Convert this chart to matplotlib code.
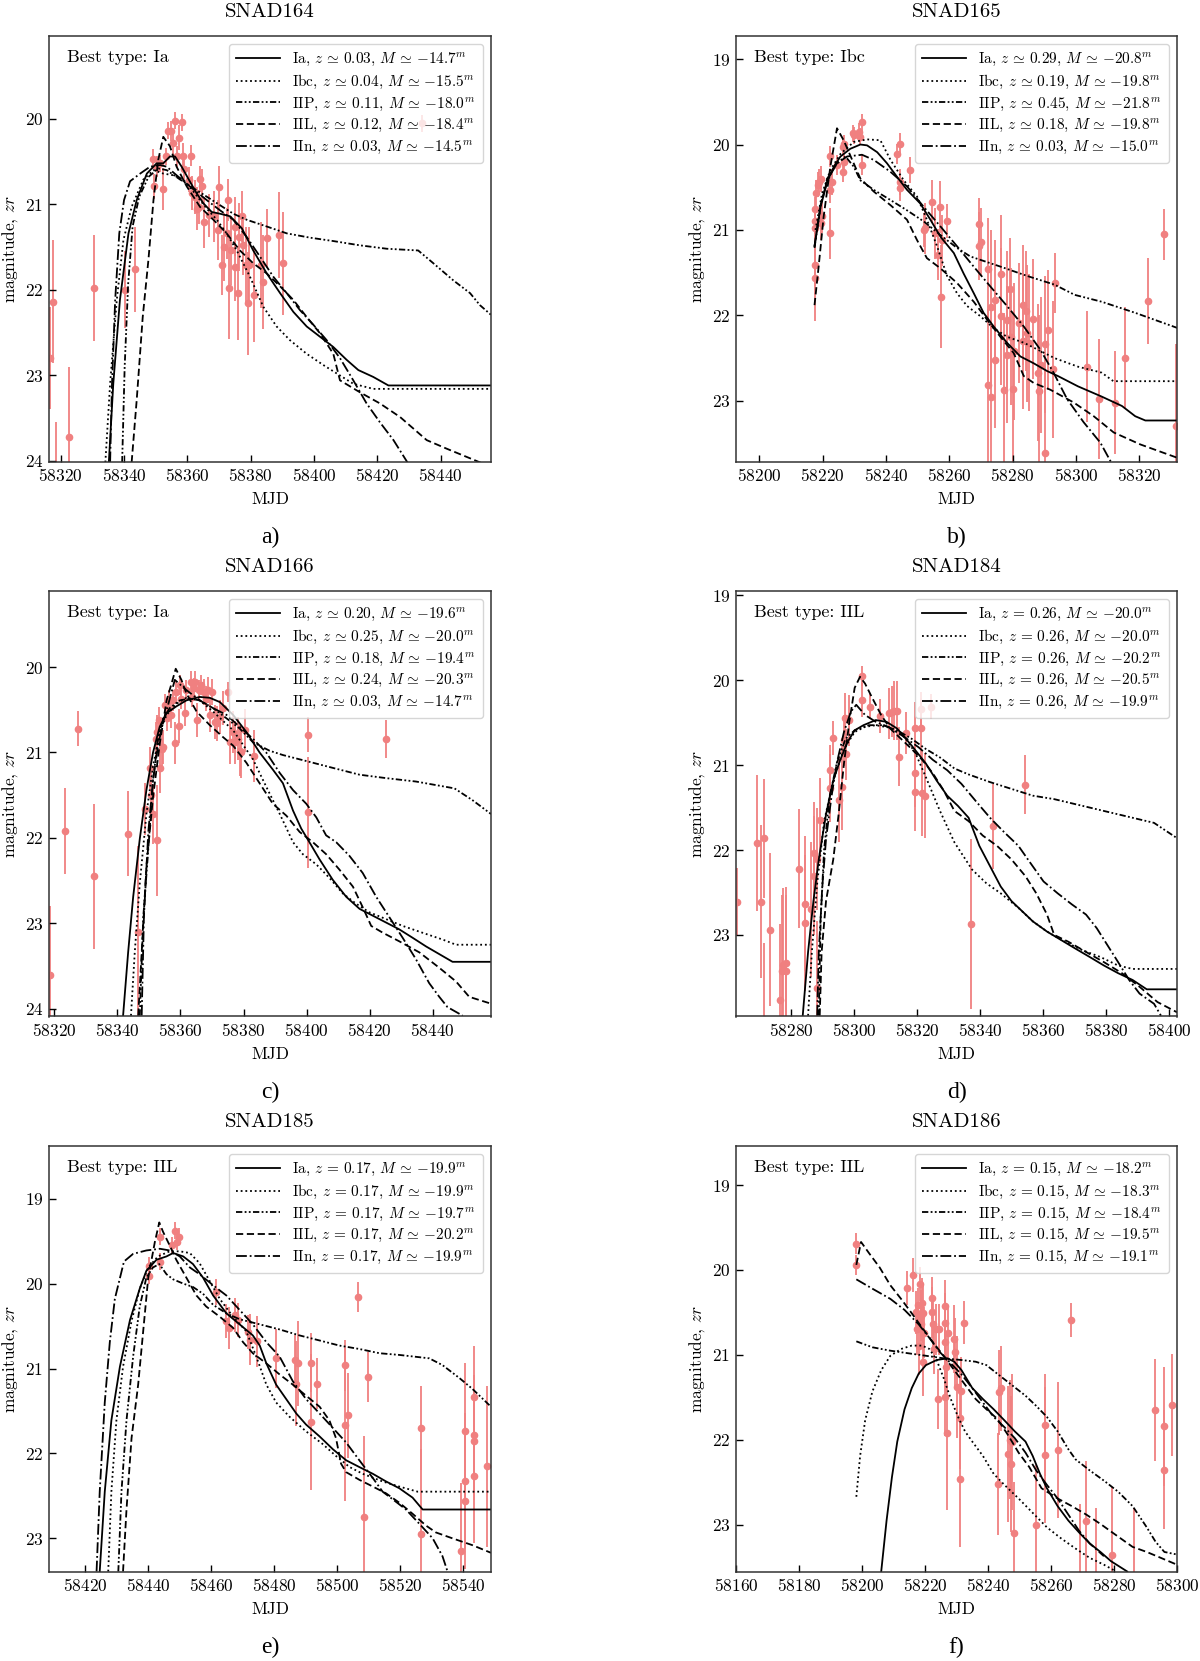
"""
Six light-curve panels (SNAD164 ... SNAD186): ZTF zr photometry with the
best-fit templates of each supernova type overplotted.
"""

import matplotlib

matplotlib.use("Agg")
import matplotlib.pyplot as plt
from matplotlib.ticker import MultipleLocator

plt.rcParams.update({
    "font.family": "serif",
    "font.serif": ["cmr10"],
    "mathtext.fontset": "cm",
    "axes.formatter.use_mathtext": True,
    "axes.formatter.useoffset": False,
})

RED = "#f08080"
TYPES = ["Ia", "Ibc", "IIP", "IIL", "IIn"]
STYLES = {
    "Ia": "-",
    "Ibc": (0, (1, 1.6)),
    "IIP": (0, (3.5, 1.3, 1, 1.3, 1, 1.3)),
    "IIL": (0, (4, 2)),
    "IIn": (0, (6, 1.6, 1, 1.6)),
}

# ---------------------------------------------------------------- SNAD164
A_PTS = [
    (58316.6, 22.80, 0.60), (58317.5, 22.14, 0.72), (58318.5, 24.30, 0.75),
    (58322.5, 23.72, 0.82), (58330.5, 21.98, 0.62), (58340.4, 22.00, 0.45),
    (58343.4, 21.76, 0.50), (58349.3, 20.47, 0.12), (58349.5, 20.79, 0.15),
    (58350.3, 20.56, 0.12), (58351.4, 20.52, 0.10), (58352.4, 20.82, 0.25),
    (58353.2, 20.44, 0.10), (58354.0, 20.14, 0.10), (58354.8, 20.14, 0.12),
    (58355.5, 20.28, 0.15), (58356.2, 20.02, 0.10), (58356.8, 20.44, 0.12),
    (58357.4, 20.22, 0.15), (58358.2, 20.04, 0.10), (58358.5, 20.43, 0.15),
    (58359.0, 20.59, 0.15), (58360.4, 20.71, 0.15), (58361.2, 20.43, 0.12),
    (58361.6, 20.87, 0.20), (58362.5, 20.91, 0.20), (58363.0, 21.05, 0.25),
    (58363.6, 21.03, 0.20), (58364.0, 20.70, 0.15), (58364.5, 20.79, 0.20),
    (58365.3, 21.21, 0.30), (58366.8, 21.13, 0.25), (58368.3, 21.14, 0.30),
    (58369.8, 21.30, 0.35), (58370.1, 20.80, 0.25), (58370.9, 21.71, 0.35),
    (58371.5, 21.50, 0.40), (58372.4, 21.34, 0.30), (58372.9, 20.95, 0.25),
    (58373.2, 21.98, 0.60), (58373.9, 21.54, 0.40), (58375.2, 21.26, 0.35),
    (58375.2, 21.73, 0.40), (58376.0, 22.04, 0.55), (58376.3, 21.38, 0.40),
    (58377.4, 21.14, 0.30), (58377.7, 21.48, 0.35), (58378.5, 21.71, 0.45),
    (58379.0, 22.16, 0.60), (58379.4, 21.71, 0.45), (58381.1, 22.06, 0.55),
    (58383.3, 21.71, 0.50), (58384.0, 21.91, 0.55), (58385.1, 21.40, 0.35),
    (58389.0, 21.36, 0.50), (58390.1, 21.69, 0.60), (58434.0, 20.05, 0.10),
]
A_IA = [
    (58335.2, 24.02), (58336.6, 23.10), (58338.7, 22.12), (58341.4, 21.34),
    (58344.0, 20.95), (58347.2, 20.64), (58350.3, 20.52), (58352.4, 20.52),
    (58354.5, 20.44), (58356.1, 20.44), (58358.2, 20.56), (58360.3, 20.70),
    (58362.9, 20.87), (58365.1, 20.99), (58367.7, 21.09), (58370.3, 21.11),
    (58373.5, 21.14), (58377.2, 21.28), (58380.8, 21.54), (58385.1, 21.81),
    (58389.3, 22.04), (58393.5, 22.26), (58397.7, 22.43), (58401.9, 22.55),
    (58406.1, 22.67), (58410.3, 22.82), (58414.0, 22.94), (58418.7, 23.02),
    (58423.5, 23.12), (58456.0, 23.12),
]
A_IBC = [
    (58334.1, 24.02), (58335.6, 23.10), (58337.7, 22.12), (58339.8, 21.42),
    (58342.4, 21.03), (58346.1, 20.71), (58349.3, 20.60), (58352.4, 20.64),
    (58355.6, 20.66), (58358.7, 20.71), (58361.9, 20.85), (58366.1, 21.05),
    (58369.3, 21.18), (58372.4, 21.34), (58375.6, 21.54), (58379.8, 21.85),
    (58384.0, 22.20), (58388.2, 22.43), (58392.4, 22.59), (58397.7, 22.75),
    (58402.9, 22.88), (58407.2, 22.98), (58412.4, 23.10), (58418.7, 23.16),
    (58456.0, 23.16),
]
A_IIP = [
    (58339.4, 24.02), (58340.2, 22.90), (58341.3, 21.93), (58342.7, 21.26),
    (58344.8, 20.91), (58347.7, 20.68), (58350.8, 20.58), (58353.5, 20.60),
    (58357.7, 20.71), (58361.9, 20.81), (58366.1, 20.91), (58370.3, 21.01),
    (58374.5, 21.11), (58378.7, 21.18), (58385.1, 21.26), (58391.4, 21.34),
    (58398.7, 21.39), (58406.1, 21.43), (58414.5, 21.48), (58423.0, 21.52),
    (58432.9, 21.54), (58437.7, 21.69), (58444.0, 21.89), (58449.3, 22.04),
    (58452.4, 22.18), (58456.1, 22.30),
]
A_IIL = [
    (58342.4, 24.02), (58344.0, 23.29), (58345.9, 22.32), (58347.7, 21.65),
    (58349.3, 20.95), (58350.8, 20.48), (58352.4, 20.21), (58354.5, 20.32),
    (58356.6, 20.56), (58359.8, 20.79), (58364.0, 21.03), (58368.2, 21.18),
    (58372.4, 21.34), (58376.6, 21.54), (58380.8, 21.69), (58385.1, 21.81),
    (58389.3, 21.96), (58393.5, 22.12), (58397.7, 22.32), (58401.9, 22.51),
    (58406.1, 22.75), (58408.2, 23.06), (58414.5, 23.20), (58420.8, 23.33),
    (58427.2, 23.49), (58435.6, 23.76), (58441.9, 23.86), (58452.4, 24.02),
    (58456.0, 24.10),
]
A_IIN = [
    (58335.6, 24.02), (58336.2, 23.10), (58337.2, 22.12), (58338.5, 21.34),
    (58340.0, 20.95), (58341.9, 20.73), (58345.1, 20.64), (58348.2, 20.56),
    (58351.4, 20.54), (58353.5, 20.56), (58356.6, 20.66), (58360.8, 20.79),
    (58366.1, 20.95), (58370.3, 21.07), (58374.5, 21.18), (58378.7, 21.38),
    (58382.9, 21.61), (58387.2, 21.85), (58391.4, 22.04), (58395.6, 22.24),
    (58399.8, 22.41), (58404.0, 22.59), (58408.2, 22.80), (58412.4, 23.06),
    (58416.6, 23.33), (58420.8, 23.55), (58425.1, 23.76), (58429.5, 24.02),
    (58430.8, 24.15),
]
A_Z = [0.03, 0.04, 0.11, 0.12, 0.03]
A_MABS = [-14.7, -15.5, -18.0, -18.4, -14.5]

# ---------------------------------------------------------------- SNAD165
B_PTS = [
    (58217.4, 20.76, 0.15), (58217.4, 20.90, 0.15), (58217.4, 20.98, 0.20),
    (58217.4, 21.41, 0.25), (58217.4, 21.56, 0.50), (58217.9, 20.57, 0.15),
    (58218.4, 20.47, 0.15), (58218.9, 20.44, 0.15), (58219.3, 20.40, 0.15),
    (58219.5, 20.92, 0.20), (58219.8, 20.84, 0.20), (58222.4, 20.14, 0.12),
    (58222.4, 20.53, 0.15), (58222.4, 21.04, 0.30), (58222.9, 20.44, 0.15),
    (58224.5, 20.24, 0.12), (58226.3, 20.03, 0.10), (58226.3, 20.32, 0.12),
    (58226.6, 20.20, 0.10), (58226.6, 19.99, 0.10), (58229.4, 19.87, 0.10),
    (58229.8, 19.89, 0.10), (58231.4, 19.85, 0.10), (58231.9, 19.91, 0.10),
    (58232.4, 19.74, 0.10), (58232.4, 20.24, 0.12), (58243.5, 20.11, 0.12),
    (58244.3, 19.99, 0.12), (58244.5, 20.44, 0.15), (58244.5, 20.51, 0.15),
    (58247.5, 20.30, 0.15), (58252.1, 21.00, 0.20), (58252.4, 20.98, 0.30),
    (58254.5, 20.67, 0.25), (58255.6, 21.04, 0.30), (58256.4, 21.29, 0.30),
    (58257.1, 20.73, 0.30), (58257.4, 21.78, 0.60), (58257.7, 21.12, 0.30),
    (58259.3, 20.90, 0.20), (58269.4, 20.93, 0.30), (58269.4, 21.19, 0.40),
    (58270.1, 21.14, 0.40), (58272.1, 21.46, 0.60), (58272.1, 22.82, 0.90),
    (58273.0, 21.90, 0.90), (58273.2, 22.96, 0.90), (58274.3, 21.82, 0.70),
    (58274.3, 22.52, 0.80), (58276.2, 21.52, 0.70), (58276.4, 22.01, 0.80),
    (58277.2, 22.87, 0.90), (58278.1, 22.05, 0.80), (58278.1, 22.46, 0.80),
    (58279.1, 21.69, 0.60), (58279.4, 22.25, 0.80), (58280.2, 22.86, 0.90),
    (58280.4, 22.42, 0.80), (58282.1, 22.09, 0.70), (58283.2, 21.88, 0.70),
    (58283.4, 22.30, 0.80), (58284.1, 21.95, 0.70), (58284.5, 22.21, 0.80),
    (58285.1, 22.32, 0.80), (58286.3, 22.04, 0.70), (58287.9, 22.67, 0.80),
    (58288.2, 22.89, 0.90), (58289.0, 22.58, 0.80), (58290.2, 23.61, 1.00),
    (58290.2, 22.34, 0.80), (58291.1, 22.17, 0.70), (58292.6, 22.63, 0.80),
    (58293.4, 21.62, 0.35), (58303.5, 22.60, 0.65), (58307.2, 22.98, 0.70),
    (58312.4, 23.02, 0.60), (58315.5, 22.50, 0.60), (58322.6, 21.83, 0.50),
    (58327.7, 21.05, 0.30), (58331.6, 23.29, 0.95),
]
B_IA = [
    (58217.4, 21.19), (58219.3, 20.73), (58221.4, 20.44), (58223.5, 20.26),
    (58225.6, 20.14), (58228.7, 20.05), (58231.9, 20.00), (58234.0, 20.01),
    (58237.2, 20.09), (58240.3, 20.22), (58243.5, 20.38), (58246.6, 20.53),
    (58250.8, 20.69), (58254.0, 20.88), (58257.2, 21.08), (58261.4, 21.27),
    (58264.5, 21.51), (58267.7, 21.74), (58270.8, 21.97), (58274.0, 22.13),
    (58278.2, 22.32), (58282.4, 22.48), (58286.6, 22.56), (58290.8, 22.65),
    (58294.3, 22.71), (58300.6, 22.83), (58308.1, 22.95), (58314.5, 23.06),
    (58318.7, 23.18), (58321.9, 23.23), (58333.0, 23.23),
]
B_IBC = [
    (58217.7, 21.00), (58219.8, 20.57), (58222.4, 20.30), (58225.6, 20.11),
    (58229.8, 19.97), (58234.0, 19.94), (58238.2, 19.95), (58241.4, 20.18),
    (58245.6, 20.42), (58249.8, 20.61), (58252.9, 20.88), (58256.1, 21.19),
    (58259.3, 21.54), (58262.4, 21.74), (58265.6, 21.89), (58269.8, 22.01),
    (58274.0, 22.15), (58278.2, 22.25), (58283.5, 22.32), (58286.8, 22.38),
    (58293.2, 22.50), (58300.6, 22.60), (58308.1, 22.67), (58311.8, 22.77),
    (58333.0, 22.77),
]
B_IIP = [
    (58217.4, 21.21), (58219.3, 20.73), (58221.4, 20.40), (58224.5, 20.22),
    (58227.2, 20.14), (58229.8, 20.26), (58231.9, 20.42), (58236.1, 20.53),
    (58241.4, 20.65), (58246.6, 20.77), (58251.9, 20.90), (58257.2, 21.06),
    (58262.4, 21.21), (58266.6, 21.31), (58276.2, 21.43), (58284.7, 21.54),
    (58293.2, 21.64), (58299.6, 21.76), (58308.1, 21.84), (58318.7, 21.97),
    (58333.0, 22.16),
]
B_IIL = [
    (58217.4, 21.88), (58218.7, 21.43), (58220.3, 20.84), (58222.4, 20.26),
    (58224.5, 19.81), (58226.6, 19.95), (58229.3, 20.18), (58231.9, 20.40),
    (58236.1, 20.55), (58241.4, 20.71), (58246.6, 20.88), (58249.8, 21.12),
    (58252.9, 21.33), (58257.2, 21.45), (58262.4, 21.62), (58267.7, 21.84),
    (58271.9, 22.05), (58276.1, 22.25), (58280.3, 22.44), (58283.5, 22.71),
    (58286.6, 22.79), (58291.9, 22.87), (58299.3, 23.02), (58305.6, 23.18),
    (58311.9, 23.37), (58320.3, 23.51), (58333.0, 23.68),
]
B_IIN = [
    (58217.4, 21.19), (58219.3, 20.71), (58221.4, 20.42), (58224.5, 20.22),
    (58227.7, 20.14), (58232.4, 20.12), (58236.1, 20.18), (58241.4, 20.32),
    (58246.6, 20.49), (58251.9, 20.73), (58257.2, 20.96), (58262.4, 21.19),
    (58267.7, 21.43), (58272.9, 21.66), (58278.2, 21.89), (58283.5, 22.13),
    (58288.7, 22.40), (58292.9, 22.67), (58297.2, 22.98), (58302.4, 23.25),
    (58307.7, 23.49), (58310.8, 23.70), (58311.9, 23.76),
]
B_Z = [0.29, 0.19, 0.45, 0.18, 0.03]
B_MABS = [-20.8, -19.8, -21.8, -19.8, -15.0]

# ---------------------------------------------------------------- SNAD166
C_PTS = [
    (58318.6, 23.60, 0.80), (58323.4, 21.92, 0.50), (58327.5, 20.72, 0.20),
    (58332.6, 22.45, 0.85), (58343.2, 21.95, 0.50), (58346.4, 23.10, 1.00),
    (58348.9, 21.66, 0.30), (58350.2, 21.18, 0.25), (58350.8, 21.50, 0.30),
    (58351.4, 21.72, 0.35), (58352.1, 20.84, 0.20), (58352.4, 22.03, 0.65),
    (58352.7, 20.76, 0.20), (58353.2, 20.62, 0.15), (58353.5, 21.18, 0.30),
    (58354.1, 20.96, 0.20), (58354.5, 20.94, 0.20), (58355.1, 20.44, 0.12),
    (58355.8, 20.60, 0.15), (58356.3, 20.39, 0.12), (58356.9, 20.56, 0.15),
    (58357.7, 20.39, 0.12), (58358.3, 20.89, 0.25), (58358.7, 20.29, 0.12),
    (58359.4, 20.69, 0.20), (58359.8, 20.21, 0.12), (58360.3, 20.37, 0.12),
    (58361.5, 20.54, 0.15), (58361.9, 20.27, 0.12), (58363.2, 20.17, 0.12),
    (58363.7, 20.35, 0.12), (58364.2, 20.25, 0.12), (58364.7, 20.17, 0.12),
    (58365.3, 20.62, 0.20), (58365.9, 20.27, 0.12), (58366.6, 20.21, 0.12),
    (58367.4, 20.29, 0.15), (58368.0, 20.37, 0.15), (58368.7, 20.27, 0.15),
    (58369.3, 20.56, 0.20), (58370.1, 20.29, 0.15), (58370.9, 20.64, 0.20),
    (58371.6, 20.66, 0.20), (58372.5, 20.58, 0.20), (58373.5, 20.48, 0.20),
    (58375.2, 20.29, 0.12), (58375.6, 20.88, 0.25), (58376.7, 20.76, 0.25),
    (58377.4, 20.88, 0.25), (58378.3, 20.84, 0.25), (58378.8, 20.98, 0.30),
    (58379.3, 21.00, 0.30), (58380.4, 20.74, 0.25), (58383.2, 21.04, 0.30),
    (58400.4, 20.79, 0.20), (58400.4, 21.70, 0.65), (58425.2, 20.84, 0.22),
]
C_IA = [
    (58341.8, 24.08), (58343.4, 23.34), (58345.0, 22.69), (58347.1, 22.01),
    (58349.2, 21.44), (58351.3, 21.00), (58353.4, 20.70), (58355.6, 20.54),
    (58358.7, 20.46), (58361.9, 20.39), (58366.1, 20.35), (58369.3, 20.36),
    (58372.5, 20.41), (58376.7, 20.56), (58380.9, 20.76), (58385.1, 21.00),
    (58389.3, 21.20), (58392.5, 21.36), (58395.7, 21.68), (58398.3, 21.89),
    (58400.9, 22.05), (58404.1, 22.25), (58408.3, 22.49), (58412.6, 22.69),
    (58416.8, 22.83), (58421.0, 22.91), (58425.2, 22.99), (58429.4, 23.07),
    (58433.7, 23.17), (58437.9, 23.27), (58442.1, 23.36), (58446.3, 23.45),
    (58458.5, 23.45),
]
C_IBC = [
    (58344.3, 24.08), (58345.5, 23.34), (58347.1, 22.53), (58349.2, 21.72),
    (58351.3, 21.16), (58353.4, 20.76), (58355.6, 20.56), (58358.7, 20.43),
    (58361.9, 20.36), (58366.1, 20.39), (58370.3, 20.52), (58376.7, 20.74),
    (58383.0, 21.08), (58387.2, 21.40), (58391.5, 21.72), (58395.7, 22.05),
    (58398.8, 22.19), (58403.1, 22.31), (58407.3, 22.47), (58411.5, 22.65),
    (58415.7, 22.77), (58419.9, 22.87), (58425.2, 22.95), (58430.5, 23.03),
    (58436.8, 23.11), (58443.2, 23.19), (58447.4, 23.25), (58458.5, 23.25),
]
C_IIP = [
    (58347.1, 24.08), (58348.2, 22.93), (58349.8, 22.13), (58351.3, 21.32),
    (58352.9, 20.84), (58354.5, 20.60), (58356.6, 20.48), (58359.8, 20.39),
    (58363.0, 20.37), (58366.1, 20.39), (58370.3, 20.48), (58374.6, 20.60),
    (58378.8, 20.72), (58383.0, 20.88), (58388.3, 20.98), (58392.5, 21.03),
    (58399.9, 21.10), (58408.3, 21.18), (58416.8, 21.26), (58425.2, 21.30),
    (58434.7, 21.34), (58446.9, 21.42), (58452.7, 21.56), (58458.5, 21.72),
]
C_IIL = [
    (58346.6, 24.08), (58347.7, 23.34), (58349.2, 22.33), (58351.3, 21.52),
    (58353.5, 20.88), (58355.6, 20.39), (58357.2, 20.19), (58358.5, 20.02),
    (58360.3, 20.15), (58361.9, 20.31), (58365.1, 20.52), (58369.3, 20.68),
    (58373.5, 20.82), (58376.7, 20.92), (58380.9, 21.12), (58385.1, 21.36),
    (58389.3, 21.60), (58393.6, 21.74), (58397.8, 21.93), (58402.0, 22.05),
    (58406.2, 22.19), (58410.4, 22.37), (58414.7, 22.57), (58417.8, 22.81),
    (58420.5, 23.03), (58424.2, 23.11), (58429.4, 23.21), (58435.8, 23.34),
    (58442.1, 23.52), (58447.4, 23.68), (58451.6, 23.86), (58458.5, 23.94),
]
C_IIN = [
    (58347.7, 24.08), (58348.4, 22.93), (58349.8, 21.93), (58351.3, 21.32),
    (58352.9, 20.92), (58354.5, 20.64), (58356.1, 20.44), (58358.2, 20.15),
    (58361.9, 20.27), (58366.1, 20.39), (58370.3, 20.48), (58374.6, 20.56),
    (58378.8, 20.70), (58383.0, 20.84), (58387.2, 21.00), (58391.5, 21.24),
    (58395.7, 21.44), (58399.9, 21.60), (58403.1, 21.76), (58406.2, 21.97),
    (58409.4, 22.05), (58413.6, 22.21), (58417.8, 22.41), (58422.1, 22.69),
    (58426.3, 22.93), (58430.5, 23.17), (58434.7, 23.42), (58438.9, 23.70),
    (58442.1, 23.86), (58444.7, 23.98), (58449.5, 24.08),
]
C_Z = [0.20, 0.25, 0.18, 0.24, 0.03]
C_MABS = [-19.6, -20.0, -19.4, -20.3, -14.7]

# ---------------------------------------------------------------- SNAD184
D_PTS = [
    (58262.8, 22.61, 0.40), (58269.1, 21.92, 0.80), (58270.4, 22.61, 0.90),
    (58271.3, 21.86, 0.70), (58271.3, 24.00, 0.90), (58273.4, 22.94, 0.90),
    (58276.5, 23.77, 0.90), (58277.2, 23.43, 0.90), (58277.5, 23.35, 0.90),
    (58278.3, 23.43, 0.90), (58278.3, 23.33, 0.90), (58282.5, 22.22, 0.70),
    (58284.3, 22.63, 0.80), (58284.3, 22.86, 0.80), (58286.3, 22.70, 0.80),
    (58287.2, 22.04, 0.60), (58287.2, 22.30, 0.70), (58288.2, 22.11, 0.60),
    (58288.2, 23.63, 0.80), (58289.2, 21.65, 0.50), (58292.5, 21.06, 0.30),
    (58292.5, 21.27, 0.40), (58293.4, 20.68, 0.20), (58295.3, 21.41, 0.50),
    (58296.3, 21.26, 0.50), (58296.8, 20.71, 0.30), (58297.1, 20.45, 0.30),
    (58297.4, 20.87, 0.30), (58298.3, 20.47, 0.30), (58302.4, 19.95, 0.12),
    (58302.4, 20.23, 0.20), (58305.2, 20.31, 0.15), (58308.3, 20.42, 0.20),
    (58311.2, 20.39, 0.30), (58312.1, 20.37, 0.30), (58312.8, 20.36, 0.35),
    (58313.5, 20.36, 0.35), (58314.3, 20.90, 0.35), (58316.5, 20.62, 0.25),
    (58319.4, 20.56, 0.30), (58319.4, 21.09, 0.40), (58319.4, 21.32, 0.45),
    (58321.4, 20.34, 0.20), (58321.4, 20.56, 0.35), (58321.5, 21.33, 0.50),
    (58322.5, 21.36, 0.50), (58324.3, 20.31, 0.15), (58337.3, 22.87, 1.00),
    (58344.3, 21.72, 0.50), (58354.3, 21.23, 0.35),
]
D_IA = [
    (58283.7, 23.95), (58285.4, 23.20), (58287.1, 22.60), (58288.8, 22.11),
    (58291.1, 21.58), (58293.4, 21.18), (58295.6, 20.94), (58297.9, 20.73),
    (58300.2, 20.59), (58303.0, 20.53), (58306.9, 20.47), (58310.3, 20.49),
    (58313.7, 20.57), (58318.3, 20.77), (58322.8, 20.98), (58326.2, 21.18),
    (58329.6, 21.36), (58333.0, 21.48), (58336.4, 21.62), (58339.8, 21.95),
    (58343.2, 22.19), (58346.6, 22.43), (58350.0, 22.60), (58353.4, 22.72),
    (58356.8, 22.84), (58361.3, 22.96), (58365.8, 23.06), (58370.3, 23.16),
    (58374.9, 23.26), (58379.4, 23.36), (58383.9, 23.45), (58388.5, 23.53),
    (58393.0, 23.64), (58402.6, 23.64),
]
D_IBC = [
    (58285.4, 23.95), (58286.6, 23.20), (58288.3, 22.39), (58290.5, 21.66),
    (58293.4, 21.18), (58296.8, 20.81), (58300.2, 20.61), (58303.5, 20.55),
    (58306.9, 20.53), (58311.5, 20.56), (58316.0, 20.67), (58319.4, 20.85),
    (58322.8, 21.14), (58327.3, 21.54), (58331.9, 21.91), (58337.5, 22.23),
    (58342.0, 22.39), (58346.6, 22.51), (58352.2, 22.68), (58356.8, 22.84),
    (58361.3, 22.96), (58367.0, 23.08), (58372.6, 23.18), (58378.3, 23.26),
    (58383.9, 23.36), (58388.5, 23.40), (58402.6, 23.40),
]
D_IIP = [
    (58288.8, 23.95), (58289.4, 22.80), (58290.5, 21.99), (58292.2, 21.38),
    (58294.5, 20.98), (58297.3, 20.69), (58300.2, 20.59), (58304.7, 20.53),
    (58309.2, 20.53), (58313.7, 20.59), (58318.3, 20.69), (58322.8, 20.81),
    (58327.3, 20.91), (58331.9, 21.04), (58336.4, 21.11), (58343.2, 21.20),
    (58350.0, 21.28), (58356.8, 21.36), (58363.5, 21.40), (58372.6, 21.48),
    (58379.4, 21.54), (58386.2, 21.60), (58395.3, 21.68), (58402.6, 21.86),
]
D_IIL = [
    (58289.1, 23.95), (58289.7, 23.20), (58291.1, 22.60), (58293.4, 22.11),
    (58295.1, 21.58), (58296.8, 20.98), (58298.5, 20.49), (58300.2, 20.09),
    (58301.9, 19.96), (58303.5, 20.04), (58305.8, 20.21), (58308.6, 20.41),
    (58311.5, 20.57), (58314.9, 20.69), (58318.3, 20.81), (58321.7, 20.94),
    (58325.1, 21.10), (58328.5, 21.30), (58331.9, 21.54), (58336.4, 21.66),
    (58340.9, 21.83), (58345.4, 21.95), (58350.0, 22.11), (58354.5, 22.31),
    (58357.9, 22.51), (58361.3, 22.76), (58363.6, 23.00), (58368.1, 23.08),
    (58373.7, 23.20), (58379.4, 23.32), (58385.1, 23.45), (58390.7, 23.61),
    (58396.4, 23.79), (58402.6, 23.91),
]
D_IIN = [
    (58288.3, 23.95), (58288.8, 23.20), (58290.0, 22.39), (58291.1, 21.87),
    (58292.8, 21.38), (58294.5, 20.98), (58296.8, 20.61), (58299.0, 20.37),
    (58300.7, 20.29), (58303.5, 20.41), (58306.9, 20.49), (58311.5, 20.56),
    (58316.0, 20.67), (58320.5, 20.79), (58325.1, 20.94), (58329.6, 21.06),
    (58334.1, 21.22), (58338.6, 21.42), (58343.2, 21.62), (58347.7, 21.79),
    (58352.2, 21.95), (58355.6, 22.13), (58360.2, 22.37), (58364.7, 22.51),
    (58369.2, 22.64), (58373.7, 22.76), (58377.1, 22.92), (58380.5, 23.12),
    (58383.9, 23.32), (58387.4, 23.53), (58390.7, 23.69), (58395.3, 23.81),
    (58397.5, 23.95),
]
D_Z = [0.26, 0.26, 0.26, 0.26, 0.26]
D_MABS = [-20.0, -20.0, -20.2, -20.5, -19.9]

# ---------------------------------------------------------------- SNAD185
E_PTS = [
    (58440.3, 19.91, 0.10), (58440.3, 19.79, 0.10), (58443.7, 19.45, 0.10),
    (58443.7, 19.74, 0.10), (58447.4, 19.55, 0.10), (58448.4, 19.38, 0.10),
    (58449.2, 19.51, 0.10), (58449.7, 19.45, 0.10), (58461.6, 20.10, 0.15),
    (58464.8, 20.44, 0.20), (58465.6, 20.52, 0.25), (58467.4, 20.37, 0.20),
    (58468.4, 20.43, 0.20), (58471.7, 20.57, 0.20), (58472.4, 20.66, 0.30),
    (58474.5, 20.68, 0.30), (58480.6, 20.88, 0.35), (58486.5, 20.90, 0.30),
    (58486.8, 21.18, 0.50), (58487.6, 20.94, 0.50), (58491.6, 20.93, 0.35),
    (58491.6, 21.63, 0.80), (58493.6, 21.18, 0.30), (58502.6, 20.96, 0.30),
    (58502.6, 21.66, 0.90), (58503.5, 21.55, 0.50), (58506.6, 20.16, 0.18),
    (58508.5, 22.75, 0.95), (58509.6, 21.10, 0.30), (58526.6, 21.70, 0.50),
    (58526.6, 22.95, 1.00), (58539.4, 23.15, 0.80), (58540.4, 21.74, 0.80),
    (58540.4, 22.32, 0.80), (58540.4, 22.56, 0.80), (58543.4, 21.33, 0.60),
    (58543.4, 21.78, 0.70), (58543.4, 21.85, 0.70), (58543.4, 22.26, 0.80),
    (58547.4, 22.15, 0.95),
]
E_IA = [
    (58424.6, 23.39), (58426.2, 22.45), (58428.3, 21.61), (58431.0, 20.98),
    (58434.2, 20.43), (58437.3, 20.06), (58439.4, 19.85), (58442.6, 19.72),
    (58445.8, 19.68), (58447.9, 19.64), (58451.1, 19.68), (58454.2, 19.77),
    (58457.4, 19.93), (58460.6, 20.14), (58464.8, 20.35), (58469.0, 20.48),
    (58473.2, 20.61), (58475.4, 20.73), (58477.5, 20.94), (58480.6, 21.19),
    (58483.8, 21.36), (58487.0, 21.53), (58490.1, 21.66), (58494.4, 21.80),
    (58498.6, 21.95), (58502.8, 22.08), (58507.0, 22.16), (58511.3, 22.24),
    (58515.5, 22.33), (58519.7, 22.41), (58523.9, 22.52), (58527.1, 22.66),
    (58548.8, 22.66),
]
E_IBC = [
    (58427.3, 23.39), (58428.3, 22.45), (58429.9, 21.61), (58432.0, 20.98),
    (58434.7, 20.44), (58437.3, 20.06), (58440.0, 19.81), (58443.1, 19.68),
    (58446.8, 19.62), (58450.0, 19.62), (58453.2, 19.64), (58456.3, 19.76),
    (58459.5, 19.97), (58462.7, 20.18), (58466.9, 20.39), (58471.1, 20.56),
    (58474.3, 20.86), (58477.5, 21.19), (58480.6, 21.40), (58484.9, 21.57),
    (58490.1, 21.74), (58495.4, 21.89), (58499.6, 22.03), (58503.9, 22.16),
    (58508.1, 22.24), (58514.4, 22.33), (58519.7, 22.39), (58525.5, 22.45),
    (58548.8, 22.45),
]
E_IIP = [
    (58430.5, 23.39), (58431.5, 22.45), (58433.1, 21.61), (58435.2, 20.86),
    (58437.3, 20.27), (58439.4, 19.93), (58441.5, 19.81), (58443.5, 19.77),
    (58445.8, 19.89), (58447.9, 19.95), (58451.1, 20.00), (58454.2, 20.04),
    (58457.4, 20.12), (58460.6, 20.25), (58464.8, 20.35), (58469.0, 20.42),
    (58475.4, 20.48), (58481.7, 20.54), (58488.0, 20.61), (58494.4, 20.67),
    (58500.7, 20.73), (58507.0, 20.77), (58513.4, 20.82), (58519.7, 20.84),
    (58529.2, 20.88), (58533.4, 20.96), (58538.7, 21.11), (58542.9, 21.24),
    (58548.8, 21.45),
]
E_IIL = [
    (58432.0, 23.39), (58433.1, 22.66), (58434.7, 21.82), (58436.8, 21.19),
    (58438.4, 20.56), (58440.0, 19.93), (58442.1, 19.51), (58443.5, 19.28),
    (58444.7, 19.39), (58446.8, 19.55), (58448.9, 19.72), (58452.1, 19.93),
    (58455.3, 20.14), (58458.4, 20.27), (58462.7, 20.39), (58466.9, 20.52),
    (58470.1, 20.69), (58473.2, 20.82), (58477.5, 20.94), (58481.7, 21.07),
    (58485.9, 21.19), (58490.1, 21.32), (58494.4, 21.45), (58497.5, 21.61),
    (58499.6, 21.82), (58501.2, 22.12), (58502.8, 22.22), (58507.0, 22.31),
    (58511.3, 22.39), (58515.5, 22.47), (58519.7, 22.58), (58523.9, 22.71),
    (58528.2, 22.85), (58531.3, 22.93), (58536.6, 23.00), (58542.9, 23.08),
    (58548.8, 23.17),
]
E_IIN = [
    (58423.6, 23.39), (58424.6, 22.45), (58426.2, 21.40), (58427.8, 20.69),
    (58429.4, 20.18), (58432.3, 19.74), (58435.2, 19.65), (58439.4, 19.61),
    (58443.7, 19.59), (58446.8, 19.61), (58450.0, 19.68), (58453.2, 19.81),
    (58456.3, 19.89), (58460.6, 20.02), (58464.8, 20.14), (58469.0, 20.31),
    (58473.2, 20.48), (58477.5, 20.69), (58481.7, 20.86), (58485.9, 21.15),
    (58490.1, 21.36), (58494.4, 21.53), (58498.6, 21.70), (58502.8, 21.87),
    (58507.0, 22.08), (58511.3, 22.29), (58514.4, 22.45), (58517.6, 22.54),
    (58521.8, 22.66), (58526.1, 22.83), (58530.3, 23.00), (58533.4, 23.21),
    (58535.0, 23.39),
]
E_Z = [0.17, 0.17, 0.17, 0.17, 0.17]
E_MABS = [-19.9, -19.9, -19.7, -20.2, -19.9]

# ---------------------------------------------------------------- SNAD186
F_PTS = [
    (58198.2, 19.69, 0.12), (58198.2, 19.94, 0.12), (58214.3, 20.21, 0.20),
    (58216.2, 20.06, 0.20), (58217.1, 20.50, 0.25), (58217.5, 20.70, 0.30),
    (58217.8, 20.41, 0.20), (58218.0, 20.89, 0.35), (58218.3, 20.17, 0.20),
    (58218.6, 20.54, 0.30), (58218.8, 20.63, 0.30), (58219.0, 20.39, 0.30),
    (58219.4, 20.51, 0.35), (58219.5, 21.08, 0.40), (58219.7, 20.74, 0.30),
    (58222.2, 20.33, 0.25), (58222.3, 20.50, 0.30), (58222.5, 20.64, 0.30),
    (58222.8, 20.93, 0.30), (58223.4, 20.70, 0.30), (58224.2, 21.52, 0.35),
    (58224.6, 20.70, 0.30), (58226.2, 20.42, 0.30), (58226.2, 20.62, 0.35),
    (58226.3, 20.85, 0.40), (58226.5, 21.50, 0.45), (58226.7, 21.14, 0.40),
    (58227.0, 21.92, 0.90), (58227.3, 20.74, 0.30), (58229.3, 20.81, 0.40),
    (58229.5, 20.97, 0.40), (58230.0, 21.38, 0.60), (58231.0, 22.46, 0.80),
    (58231.2, 21.74, 0.60), (58231.3, 21.43, 0.40), (58232.3, 20.62, 0.25),
    (58243.2, 22.52, 0.60), (58243.4, 21.44, 0.50), (58244.2, 21.39, 0.50),
    (58246.3, 22.17, 0.80), (58246.9, 22.00, 0.70), (58247.2, 22.28, 0.80),
    (58247.6, 22.02, 0.80), (58248.2, 23.10, 0.60), (58255.3, 23.00, 0.70),
    (58258.0, 21.83, 0.60), (58258.2, 22.18, 0.80), (58262.3, 22.12, 0.80),
    (58266.3, 20.59, 0.20), (58269.1, 23.60, 0.85), (58271.2, 22.95, 0.70),
    (58274.2, 23.70, 0.90), (58279.3, 23.36, 0.80), (58286.3, 23.80, 1.00),
    (58293.1, 21.65, 0.60), (58296.0, 21.84, 0.70), (58296.0, 22.35, 0.70),
    (58298.3, 21.59, 0.60),
]
F_IA = [
    (58206.1, 23.55), (58207.8, 22.95), (58209.5, 22.44), (58211.2, 22.02),
    (58213.5, 21.64), (58215.8, 21.39), (58218.0, 21.22), (58220.3, 21.12),
    (58223.7, 21.06), (58227.1, 21.04), (58229.3, 21.08), (58231.6, 21.18),
    (58235.0, 21.39), (58238.4, 21.52), (58241.8, 21.64), (58245.2, 21.77),
    (58248.5, 21.90), (58251.9, 22.02), (58254.2, 22.19), (58256.5, 22.40),
    (58258.7, 22.57), (58262.1, 22.78), (58265.5, 22.95), (58268.9, 23.09),
    (58272.3, 23.22), (58275.7, 23.32), (58279.1, 23.43), (58282.5, 23.51),
    (58284.2, 23.55),
]
F_IBC = [
    (58198.2, 22.67), (58199.4, 22.19), (58201.0, 21.77), (58203.3, 21.43),
    (58206.1, 21.18), (58209.0, 21.01), (58212.4, 20.93), (58215.8, 20.89),
    (58219.1, 20.89), (58221.4, 20.93), (58223.7, 21.06), (58225.9, 21.27),
    (58228.2, 21.52), (58230.5, 21.73), (58232.7, 21.90), (58235.0, 22.02),
    (58238.4, 22.19), (58241.8, 22.40), (58245.2, 22.53), (58249.7, 22.69),
    (58254.2, 22.86), (58258.7, 23.03), (58263.2, 23.16), (58267.8, 23.28),
    (58272.3, 23.39), (58276.8, 23.47), (58280.2, 23.54),
]
F_IIP = [
    (58198.2, 20.84), (58203.3, 20.91), (58209.0, 20.95), (58214.6, 20.98),
    (58220.3, 21.01), (58225.9, 21.04), (58231.6, 21.06), (58236.1, 21.08),
    (58239.5, 21.12), (58242.9, 21.22), (58247.4, 21.35), (58251.9, 21.48),
    (58255.3, 21.60), (58258.7, 21.73), (58262.1, 21.90), (58265.5, 22.11),
    (58267.8, 22.23), (58272.3, 22.36), (58276.8, 22.48), (58281.3, 22.61),
    (58285.9, 22.78), (58290.4, 23.03), (58293.2, 23.20), (58296.0, 23.32),
    (58300.0, 23.35),
]
F_IIL = [
    (58198.2, 19.94), (58199.7, 19.67), (58202.2, 19.80), (58205.6, 19.97),
    (58209.0, 20.18), (58212.4, 20.34), (58215.8, 20.51), (58219.1, 20.68),
    (58222.5, 20.85), (58225.9, 21.01), (58229.3, 21.18), (58232.7, 21.35),
    (58236.1, 21.52), (58239.5, 21.64), (58242.9, 21.75), (58246.3, 21.94),
    (58249.7, 22.15), (58253.1, 22.32), (58257.0, 22.57), (58262.1, 22.69),
    (58266.6, 22.78), (58271.2, 22.88), (58275.7, 22.99), (58280.2, 23.11),
    (58285.9, 23.26), (58290.4, 23.32), (58294.9, 23.39), (58300.0, 23.47),
]
F_IIN = [
    (58198.2, 20.11), (58203.3, 20.22), (58209.0, 20.34), (58213.5, 20.47),
    (58218.0, 20.64), (58221.4, 20.80), (58224.8, 20.97), (58228.2, 21.10),
    (58231.6, 21.23), (58235.0, 21.39), (58238.4, 21.56), (58241.8, 21.73),
    (58245.2, 21.85), (58248.5, 21.98), (58251.9, 22.15), (58255.3, 22.36),
    (58258.7, 22.53), (58262.1, 22.69), (58265.5, 22.88), (58268.9, 23.07),
    (58272.3, 23.22), (58276.8, 23.37),
]
F_Z = [0.15, 0.15, 0.15, 0.15, 0.15]
F_MABS = [-18.2, -18.3, -18.4, -19.5, -19.1]

NAMES = ["SNAD164", "SNAD165", "SNAD166", "SNAD184", "SNAD185", "SNAD186"]
BEST = ["Ia", "Ibc", "Ia", "IIL", "IIL", "IIL"]
TAGS = ["a)", "b)", "c)", "d)", "e)", "f)"]
XLIMS = [(58316.3, 58455.9), (58192.6, 58331.9), (58318.3, 58458.5),
         (58262.5, 58402.6), (58408.5, 58548.8), (58160.0, 58300.0)]
YLIMS = [(24.01, 19.03), (23.71, 18.73), (24.09, 19.11),
         (23.96, 18.95), (23.39, 18.38), (23.55, 18.54)]


def legend_labels(rel, zs, mags):
    # braces keep the minus unary; thin spaces widen the relation a little
    return [f"{name}, $z\\,{rel}\\,{z:.2f}$, $M\\,\\simeq\\,{{{mag:.1f}}}^m$"
            for name, z, mag in zip(TYPES, zs, mags)]


def draw_panel(ax, pts, curves, labels, best):
    t, m, e = zip(*pts)
    ax.errorbar(t, m, yerr=e, fmt="o", color=RED, ms=4.5, elinewidth=1.3,
                capsize=0, zorder=1)
    for name, curve, label in zip(TYPES, curves, labels):
        ct, cm = zip(*curve)
        ax.plot(ct, cm, color="black", lw=1.3, ls=STYLES[name], label=label,
                zorder=2)
    ax.text(0.04, 0.95, f"Best type: {best}", transform=ax.transAxes,
            va="center", ha="left", fontsize=13)
    ax.legend(loc="upper right", fontsize=11, labelspacing=0.3,
              handlelength=2.9, borderpad=0.45, handletextpad=0.8,
              borderaxespad=0.55)


PANELS = [
    (A_PTS, [A_IA, A_IBC, A_IIP, A_IIL, A_IIN], legend_labels("\\simeq", A_Z, A_MABS)),
    (B_PTS, [B_IA, B_IBC, B_IIP, B_IIL, B_IIN], legend_labels("\\simeq", B_Z, B_MABS)),
    (C_PTS, [C_IA, C_IBC, C_IIP, C_IIL, C_IIN], legend_labels("\\simeq", C_Z, C_MABS)),
    (D_PTS, [D_IA, D_IBC, D_IIP, D_IIL, D_IIN], legend_labels("=", D_Z, D_MABS)),
    (E_PTS, [E_IA, E_IBC, E_IIP, E_IIL, E_IIN], legend_labels("=", E_Z, E_MABS)),
    (F_PTS, [F_IA, F_IBC, F_IIP, F_IIL, F_IIN], legend_labels("=", F_Z, F_MABS)),
]

W, H = 1200, 1661
fig = plt.figure(figsize=(W / 100, H / 100), dpi=100)

col_left = [49, 736]
col_width = [442, 441]
row_top = [36, 591, 1146]
ax_h = 425.5

for i, (pts, curves, labels) in enumerate(PANELS):
    row, col = divmod(i, 2)
    x0, w = col_left[col], col_width[col]
    y0 = row_top[row]
    ax = fig.add_axes([x0 / W, 1 - (y0 + ax_h) / H, w / W, ax_h / H])
    draw_panel(ax, pts, curves, labels, BEST[i])

    ax.set_xlim(*XLIMS[i])
    ax.set_ylim(*YLIMS[i])
    ax.xaxis.set_major_locator(MultipleLocator(20))
    ax.yaxis.set_major_locator(MultipleLocator(1))
    ax.tick_params(direction="in", length=5, width=1, labelsize=12.5, pad=4)
    for sp in ax.spines.values():
        sp.set_color("#333333")
        sp.set_linewidth(1.1)

    ax.set_xlabel("MJD", fontsize=12.5)
    ax.xaxis.set_label_coords(0.5, -(499 - 461.5) / ax_h)
    ax.xaxis.label.set_va("center")
    ax.set_ylabel("magnitude, $zr$", fontsize=12.5)
    ax.yaxis.set_label_coords(-39 / w, 0.5)
    ax.yaxis.label.set_va("center")

    cx = (x0 + w / 2) / W
    fig.text(cx, 1 - (y0 - 24.3) / H, NAMES[i], ha="center", va="center",
             fontsize=15)
    fig.text(cx, 1 - (y0 + 501) / H, TAGS[i], ha="center", va="center",
             fontsize=17, family="Liberation Serif")

fig.savefig("out.png", dpi=100)
